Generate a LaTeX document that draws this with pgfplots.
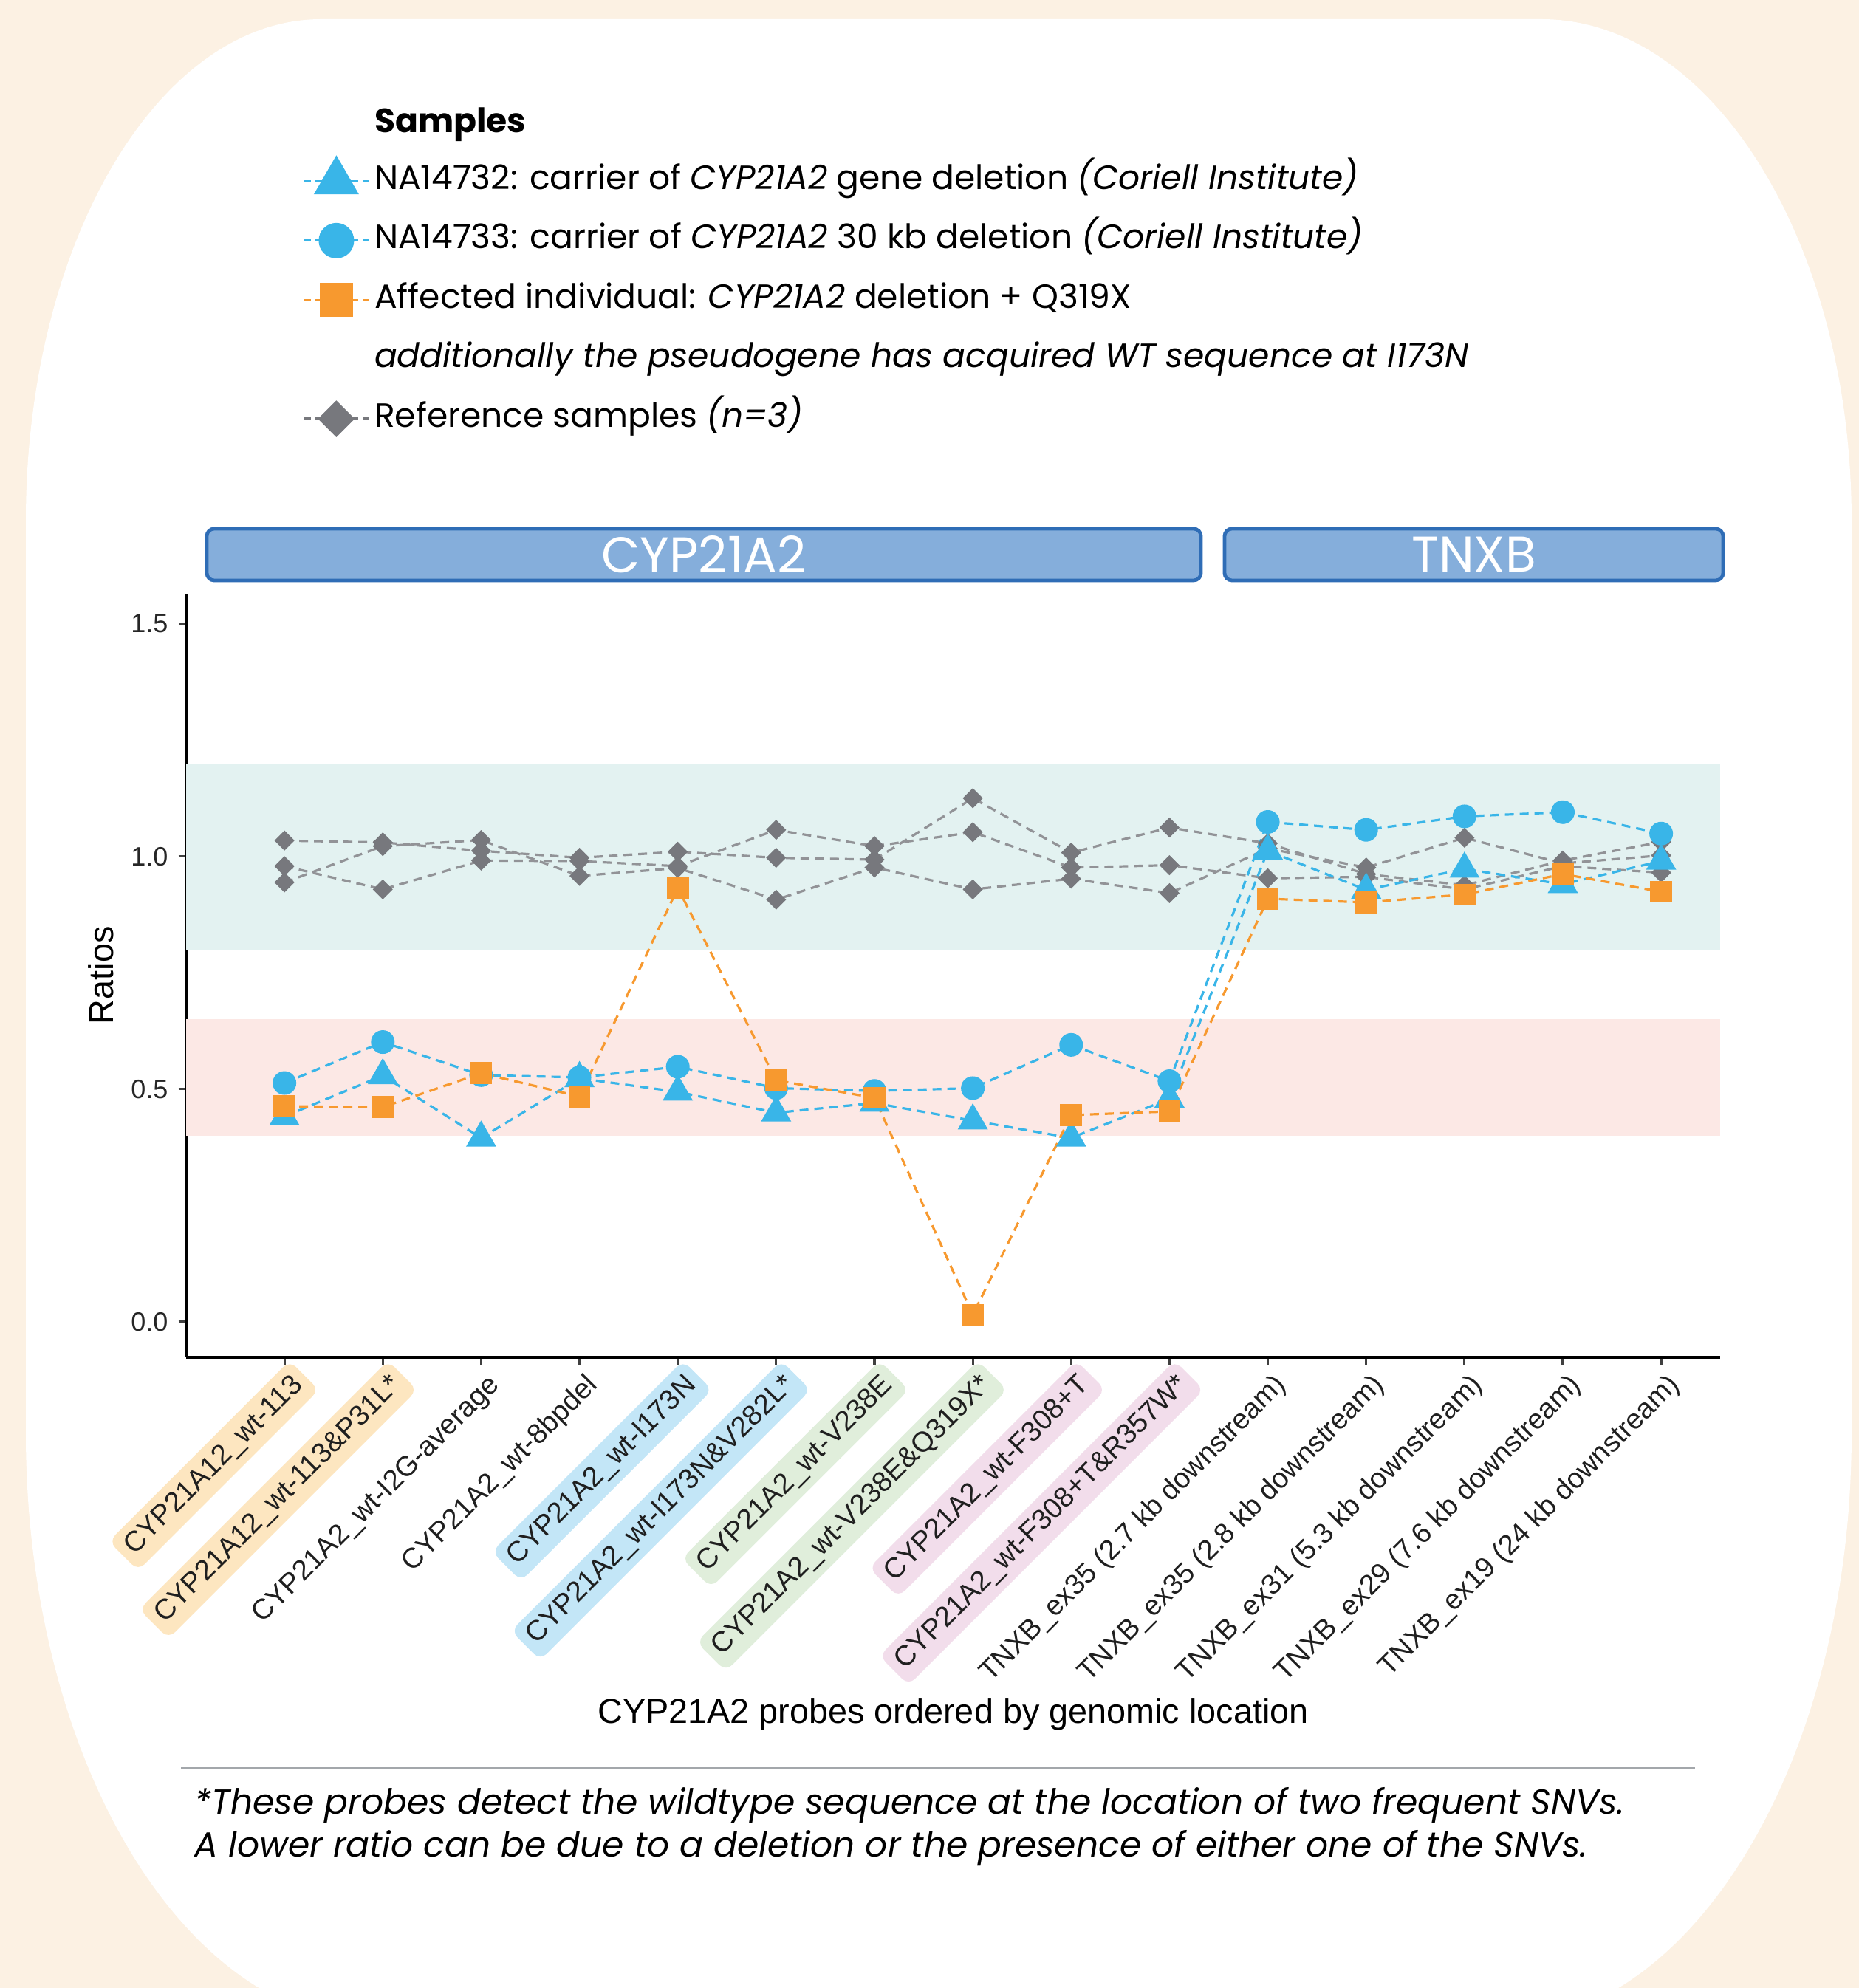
\documentclass[border=0pt]{standalone}
\usepackage{pgfplots}
\pgfplotsset{compat=1.18}
\usepackage{fontspec}
\setmainfont{Liberation Sans}
\newfontfamily\pop{Poppins}
\definecolor{cream}{HTML}{FCF1E3}
\definecolor{bandgreen}{HTML}{E3F2F1}
\definecolor{bandpink}{HTML}{FCE8E5}
\definecolor{cblue}{HTML}{39B5E8}
\definecolor{corange}{HTML}{F7992F}
\definecolor{cgray}{HTML}{77787D}
\definecolor{stripfill}{HTML}{85AEDB}
\definecolor{stripdraw}{HTML}{2F6DB6}
\definecolor{hlyellow}{HTML}{FDE6C0}
\definecolor{hlblue}{HTML}{C3E6F7}
\definecolor{hlgreen}{HTML}{E0EEDB}
\definecolor{hlpink}{HTML}{F2DDEB}
\definecolor{rulegray}{HTML}{A3A7AB}
\newcommand{\lbl}[2]{\tikz[baseline=(n.base)]\node[reset cm, fill=#1, rounded corners=3pt, inner xsep=2.8pt, inner ysep=2.5pt, text height=7pt, text depth=2pt](n){#2};}
\begin{document}
\begin{tikzpicture}
\useasboundingbox (0,0) rectangle (629.25pt,673pt);
\clip (0,0) rectangle (629.25pt,673pt);
\fill[cream] (0,0) rectangle (629.25pt,673pt);
\fill[white] (8.75pt,188pt) -- (8.75pt,496.5pt) arc[start angle=180,end angle=90,x radius=100pt,y radius=170pt] -- (521.75pt,666.5pt) arc[start angle=90,end angle=0,x radius=105pt,y radius=170pt] -- (626.75pt,188pt) arc[start angle=0,end angle=-90,x radius=120pt,y radius=200pt] -- (128.75pt,-12pt) arc[start angle=270,end angle=180,x radius=120pt,y radius=200pt] -- cycle;
% facet strips
\draw[stripdraw, fill=stripfill, line width=1.2pt, rounded corners=2.5pt] (70pt,476.5pt) rectangle (406.5pt,494pt);
\node[text=white, font=\pop\fontsize{17}{17}\selectfont] at (238.25pt,485.25pt) {CYP21A2};
\draw[stripdraw, fill=stripfill, line width=1.2pt, rounded corners=2.5pt] (414.5pt,476.5pt) rectangle (583.25pt,494pt);
\node[text=white, font=\pop\fontsize{17}{17}\selectfont] at (498.9pt,485.25pt) {TNXB};
% footnote
\draw[rulegray, line width=0.75pt] (61.25pt,74.25pt) -- (573.75pt,74.25pt);
\node[anchor=base west, inner sep=0pt, font=\pop\itshape\fontsize{11.8}{14}\selectfont] at (65.75pt,58.75pt) {*These probes detect the wildtype sequence at the location of two frequent SNVs.};
\node[anchor=base west, inner sep=0pt, font=\pop\itshape\fontsize{11.8}{14}\selectfont] at (65.75pt,44.25pt) {A lower ratio can be due to a deletion or the presence of either one of the SNVs.};
\begin{axis}[
  at={(63pt,213.5pt)}, anchor=south west,
  scale only axis, width=519.25pt, height=258.6pt,
  xmin=0, xmax=15.6, ymin=-0.0765, ymax=1.565,
  axis x line*=bottom, axis y line*=left,
  axis line style={line width=1pt, -},
  tick align=outside, major tick length=2.6pt,
  tick style={line width=0.8pt, black!75},
  ytick={0,0.5,1,1.5},
  yticklabel style={/pgf/number format/fixed, /pgf/number format/fixed zerofill, /pgf/number format/precision=1, /pgf/number format/assume math mode=true, font=\fontsize{9}{10}\selectfont, text=black!85},
  xtick={1,...,15},
  xticklabels={
    {\lbl{hlyellow}{CYP21A12\_wt-113}},
    {\lbl{hlyellow}{CYP21A12\_wt-113\&P31L*}},
    {\lbl{none}{CYP21A2\_wt-I2G-average}},
    {\lbl{none}{CYP21A2\_wt-8bpdel}},
    {\lbl{hlblue}{CYP21A2\_wt-I173N}},
    {\lbl{hlblue}{CYP21A2\_wt-I173N\&V282L*}},
    {\lbl{hlgreen}{CYP21A2\_wt-V238E}},
    {\lbl{hlgreen}{CYP21A2\_wt-V238E\&Q319X*}},
    {\lbl{hlpink}{CYP21A2\_wt-F308+T}},
    {\lbl{hlpink}{CYP21A2\_wt-F308+T\&R357W*}},
    {\lbl{none}{TNXB\_ex35 (2.7 kb downstream)}},
    {\lbl{none}{TNXB\_ex35 (2.8 kb downstream)}},
    {\lbl{none}{TNXB\_ex31 (5.3 kb downstream)}},
    {\lbl{none}{TNXB\_ex29 (7.6 kb downstream)}},
    {\lbl{none}{TNXB\_ex19 (24 kb downstream)}}},
  xticklabel style={rotate=45, anchor=north east, inner sep=0pt, xshift=2.5pt, font=\fontsize{9.6}{11}\selectfont, text=black!88},
  xlabel={CYP21A2 probes ordered by genomic location},
  xlabel style={at={(axis description cs:0.5,-0.467)}, anchor=center, font=\fontsize{11.7}{14}\selectfont},
  ylabel={Ratios},
  ylabel style={at={(axis description cs:-0.0554,0.5)}, anchor=center, rotate=0, font=\fontsize{11.7}{14}\selectfont},
  legend style={at={(axis description cs:0.0756,1.649)}, anchor=north west, draw=none, fill=none,
    font=\pop\fontsize{11.4}{13}\selectfont, row sep=6.6pt, inner sep=0pt,
    nodes={inner sep=1.5pt, text height=8pt, text depth=2.5pt}},
  legend cell align=left,
  legend image code/.code={\draw[mark repeat=2, mark phase=2, #1] plot coordinates {(0pt,0pt) (11pt,0pt) (22pt,0pt)};},
  gline/.style={dash pattern=on 3pt off 2pt, line width=0.8pt, forget plot},
]
% bands
\addplot[draw=none, fill=bandgreen, forget plot] coordinates {(0,0.8) (15.6,0.8) (15.6,1.2) (0,1.2)};
\addplot[draw=none, fill=bandpink, forget plot] coordinates {(0,0.4) (15.6,0.4) (15.6,0.65) (0,0.65)};
% lines
\addplot[gline, cgray!80] coordinates {(1,1.034) (2,1.030) (3,1.012) (4,0.997) (5,1.010) (6,0.997) (7,0.993) (8,1.125) (9,1.008) (10,1.062) (11,1.028) (12,0.962) (13,0.938) (14,0.991) (15,1.031)};
\addplot[gline, cgray!80] coordinates {(1,0.979) (2,0.929) (3,0.991) (4,0.990) (5,0.979) (6,1.057) (7,1.022) (8,1.052) (9,0.976) (10,0.981) (11,0.953) (12,0.956) (13,0.929) (14,0.979) (15,0.965)};
\addplot[gline, cgray!80] coordinates {(1,0.944) (2,1.022) (3,1.035) (4,0.958) (5,0.975) (6,0.907) (7,0.976) (8,0.929) (9,0.952) (10,0.921) (11,1.017) (12,0.976) (13,1.040) (14,0.985) (15,1.002)};
\addplot[gline, cblue] coordinates {(1,0.441) (2,0.529) (3,0.395) (4,0.523) (5,0.494) (6,0.449) (7,0.470) (8,0.432) (9,0.395) (10,0.479) (11,1.012) (12,0.928) (13,0.973) (14,0.940) (15,0.990)};
\addplot[gline, cblue] coordinates {(1,0.513) (2,0.601) (3,0.530) (4,0.525) (5,0.548) (6,0.502) (7,0.496) (8,0.502) (9,0.595) (10,0.517) (11,1.074) (12,1.057) (13,1.086) (14,1.095) (15,1.049)};
\addplot[gline, corange] coordinates {(1,0.463) (2,0.461) (3,0.534) (4,0.484) (5,0.932) (6,0.519) (7,0.481) (8,0.015) (9,0.444) (10,0.452) (11,0.909) (12,0.901) (13,0.918) (14,0.962) (15,0.924)};
% marks
\addplot[only marks, forget plot, mark=square*, mark size=2.2pt, mark options={rotate=45, fill=cgray, draw=cgray}] coordinates {(1,1.034) (2,1.030) (3,1.012) (4,0.997) (5,1.010) (6,0.997) (7,0.993) (8,1.125) (9,1.008) (10,1.062) (11,1.028) (12,0.962) (13,0.938) (14,0.991) (15,1.031)};
\addplot[only marks, forget plot, mark=square*, mark size=2.2pt, mark options={rotate=45, fill=cgray, draw=cgray}] coordinates {(1,0.979) (2,0.929) (3,0.991) (4,0.990) (5,0.979) (6,1.057) (7,1.022) (8,1.052) (9,0.976) (10,0.981) (11,0.953) (12,0.956) (13,0.929) (14,0.979) (15,0.965)};
\addplot[only marks, forget plot, mark=square*, mark size=2.2pt, mark options={rotate=45, fill=cgray, draw=cgray}] coordinates {(1,0.944) (2,1.022) (3,1.035) (4,0.958) (5,0.975) (6,0.907) (7,0.976) (8,0.929) (9,0.952) (10,0.921) (11,1.017) (12,0.976) (13,1.040) (14,0.985) (15,1.002)};
\addplot[only marks, forget plot, mark=triangle*, mark size=5.5pt, mark options={fill=cblue, draw=cblue}] coordinates {(1,0.441) (2,0.529) (3,0.395) (4,0.523) (5,0.494) (6,0.449) (7,0.470) (8,0.432) (9,0.395) (10,0.479) (11,1.012) (12,0.928) (13,0.973) (14,0.940) (15,0.990)};
\addplot[only marks, forget plot, mark=*, mark size=3.8pt, mark options={fill=cblue, draw=cblue}] coordinates {(1,0.513) (2,0.601) (3,0.530) (4,0.525) (5,0.548) (6,0.502) (7,0.496) (8,0.502) (9,0.595) (10,0.517) (11,1.074) (12,1.057) (13,1.086) (14,1.095) (15,1.049)};
\addplot[only marks, forget plot, mark=square*, mark size=3.5pt, mark options={fill=corange, draw=corange}] coordinates {(1,0.463) (2,0.461) (3,0.534) (4,0.484) (5,0.932) (6,0.519) (7,0.481) (8,0.015) (9,0.444) (10,0.452) (11,0.909) (12,0.901) (13,0.918) (14,0.962) (15,0.924)};
% legend
\addlegendimage{empty legend}
\addlegendentry{\raisebox{-2.2pt}{\textbf{Samples}}}
\addlegendimage{cblue, dash pattern=on 2.5pt off 1.5pt, line width=0.8pt, mark=triangle*, mark size=8pt, mark options={solid, fill=cblue}}
\addlegendentry{NA14732: carrier of \textit{CYP21A2} gene deletion \textit{(Coriell Institute)}}
\addlegendimage{cblue, dash pattern=on 2.5pt off 1.5pt, line width=0.8pt, mark=*, mark size=5.6pt, mark options={solid, fill=cblue}}
\addlegendentry{NA14733: carrier of \textit{CYP21A2} 30 kb deletion \textit{(Coriell Institute)}}
\addlegendimage{corange, dash pattern=on 2.5pt off 1.5pt, line width=0.8pt, mark=square*, mark size=5.3pt, mark options={solid, fill=corange}}
\addlegendentry{Affected individual: \textit{CYP21A2} deletion + Q319X}
\addlegendimage{empty legend}
\addlegendentry{\textit{additionally the pseudogene has acquired WT sequence at I173N}}
\addlegendimage{cgray, dash pattern=on 2.5pt off 1.5pt, line width=0.8pt, mark=square*, mark size=4pt, mark options={solid, rotate=45, fill=cgray}}
\addlegendentry{Reference samples \textit{(n=3)}}
\end{axis}
\end{tikzpicture}
\end{document}
